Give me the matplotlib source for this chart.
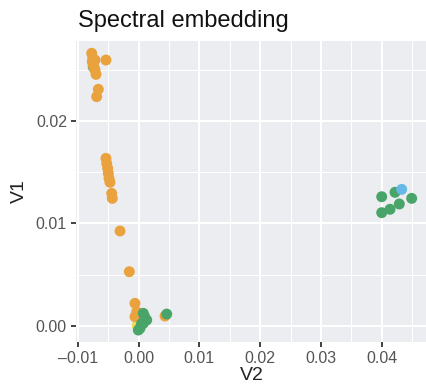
import matplotlib
matplotlib.use("Agg")
import matplotlib.pyplot as plt
from matplotlib.ticker import MultipleLocator, FixedLocator

# ----------
# data
# ----------
v2 = [-0.00745, -0.00020,
      -0.00770, -0.00753, -0.00715, -0.00535, -0.00743, -0.00715, -0.00699,
      -0.00760, -0.00730,
      -0.00661, -0.00688, -0.00535, -0.00523, -0.00507, -0.00497, -0.00485,
      -0.00469, -0.00441, -0.00431, -0.00304, -0.00151,
      -0.00058, -0.00030, -0.00058, 0.00436,
      0.00079, 0.00135, 0.00079, 0.00025, -0.00003, 0.00100, 0.00050,
      0.00464,
      0.04000, 0.04219, 0.04493, 0.04289, 0.04137, 0.04000,
      0.04329]
v1 = [0.02530, 0.00000,
      0.02663, 0.02614, 0.02597, 0.02597, 0.02548, 0.02499, 0.02457,
      0.02580, 0.02520,
      0.02311, 0.02239, 0.01636, 0.01587, 0.01539, 0.01490, 0.01441,
      0.01402, 0.01294, 0.01245, 0.00926, 0.00528,
      0.00219, 0.00137, 0.00088, 0.00095,
      0.00121, 0.00056, 0.00023, -0.00025, -0.00042, 0.00090, 0.00020,
      0.00114,
      0.01261, 0.01304, 0.01245, 0.01190, 0.01138, 0.01105,
      0.01333]
group = (["B", "D"]
         + ["A"] * 25
         + ["B"] * 14
         + ["C"])

palette = {"A": "#E9A23E", "B": "#48A468", "C": "#67B8E7", "D": "#EEDC4A"}

# -----------------------

fig = plt.figure(figsize=(4.27, 3.89), dpi=100)
ax = fig.add_axes([76 / 427, 1 - 342 / 389, 1 - 76 / 427, (342 - 40.7) / 389])
ax.set_facecolor("#EBEDF0")
for s in ax.spines.values():
    s.set_visible(False)

ax.set_xlim(-0.01028, 0.04745)
ax.set_ylim(-0.00159, 0.02786)

ax.xaxis.set_major_locator(FixedLocator([-0.01, 0.0, 0.01, 0.02, 0.03, 0.04]))
ax.yaxis.set_major_locator(FixedLocator([0.0, 0.01, 0.02]))
ax.xaxis.set_minor_locator(MultipleLocator(0.005))
ax.yaxis.set_minor_locator(MultipleLocator(0.005))
ax.set_xticklabels(["\u20130.01", "0.00", "0.01", "0.02", "0.03", "0.04"])
ax.set_yticklabels(["0.00", "0.01", "0.02"])

ax.grid(which="major", color="white", linewidth=1.5)
ax.grid(which="minor", color="white", linewidth=0.8)
ax.set_axisbelow(True)
ax.tick_params(which="major", length=3.5, width=1.3, color="#333333",
               labelsize=11.5, labelcolor="#555555", pad=3)
ax.tick_params(which="minor", length=0)
for lab in ax.get_xticklabels() + ax.get_yticklabels():
    lab.set_family("Liberation Sans")

ax.scatter(v2, v1, c=[palette[g] for g in group], s=62, linewidths=0,
           zorder=3, clip_on=False)

ax.set_xlabel("V2", fontsize=14, family="Liberation Sans", color="#222222",
              labelpad=1)
ax.set_ylabel("V1", fontsize=14, family="Liberation Sans", color="#222222",
              labelpad=6)
fig.text(78 / 427, 1 - 27 / 389, "Spectral embedding", fontsize=17,
         family="Liberation Sans", color="#111111", ha="left", va="baseline")

fig.savefig("out.png", dpi=100)
